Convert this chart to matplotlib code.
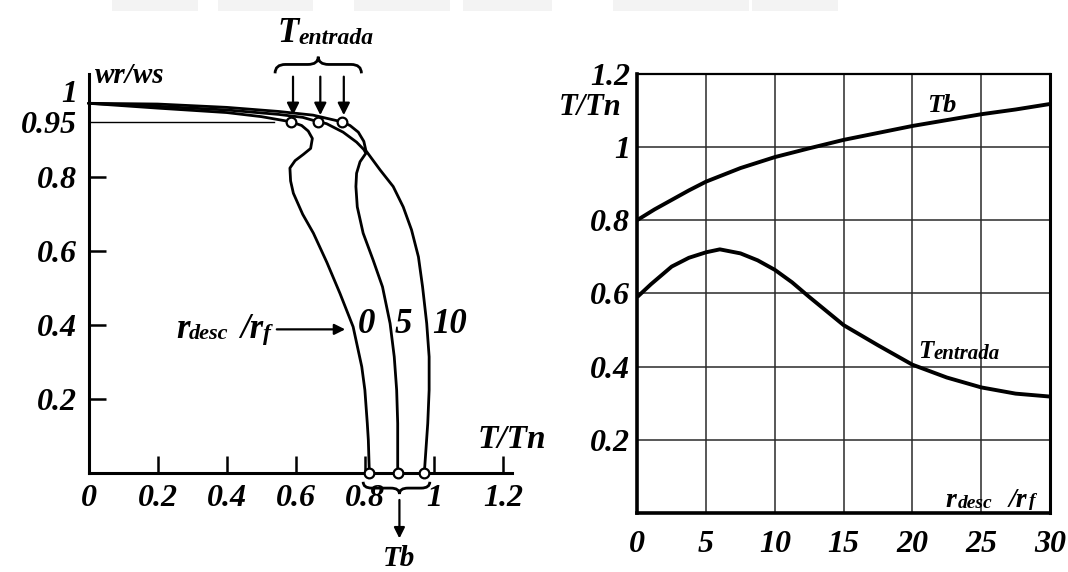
import numpy as np
import matplotlib.pyplot as plt
from matplotlib.path import Path
from matplotlib.patches import PathPatch, Rectangle

plt.rcParams['font.family'] = 'Liberation Serif'
plt.rcParams['font.style'] = 'italic'
plt.rcParams['font.weight'] = 'bold'

# speed-torque curves wr/ws vs T/Tn for rdesc/rf = 0, 5, 10
t_r0 = [0, 0.2, 0.4, 0.5, 0.586, 0.617, 0.636, 0.648, 0.643, 0.622, 0.598, 0.583,
        0.585, 0.593, 0.62, 0.651, 0.69, 0.728, 0.766, 0.791, 0.80, 0.807, 0.81, 0.813]
w_r0 = [1.0, 0.987, 0.975, 0.964, 0.95, 0.94, 0.925, 0.905, 0.878, 0.862, 0.845, 0.825,
        0.79, 0.757, 0.70, 0.649, 0.57, 0.486, 0.396, 0.288, 0.225, 0.135, 0.09, 0.0]

t_r5 = [0, 0.2, 0.4, 0.55, 0.62, 0.665, 0.689, 0.737, 0.776, 0.797, 0.803, 0.786,
        0.776, 0.774, 0.778, 0.795, 0.824, 0.851, 0.873, 0.885, 0.892, 0.895, 0.895]
w_r5 = [1.0, 0.992, 0.982, 0.97, 0.962, 0.95, 0.945, 0.922, 0.895, 0.875, 0.865, 0.842,
        0.811, 0.775, 0.72, 0.649, 0.576, 0.504, 0.405, 0.315, 0.225, 0.135, 0.0]

t_r10 = [0, 0.2, 0.4, 0.55, 0.65, 0.733, 0.757, 0.781, 0.797, 0.803, 0.844, 0.882,
         0.911, 0.935, 0.955, 0.967, 0.979, 0.986, 0.986, 0.982, 0.972]
w_r10 = [1.0, 0.998, 0.989, 0.978, 0.968, 0.95, 0.94, 0.922, 0.897, 0.872, 0.82, 0.775,
         0.72, 0.658, 0.585, 0.504, 0.405, 0.315, 0.225, 0.135, 0.0]

w_start = 0.95  # level of the starting-torque points

# torque vs rdesc/rf
r_b = [0, 1.25, 2.5, 3.75, 5, 7.5, 10, 12.5, 15, 17.5, 20, 22.5, 25, 27.5, 30]
Tb = [0.80, 0.829, 0.855, 0.881, 0.905, 0.942, 0.972, 0.996, 1.019, 1.038, 1.057,
      1.073, 1.089, 1.102, 1.117]
r_e = [0, 1, 2.5, 3.75, 5, 6, 7.5, 8.75, 10, 11.25, 12.5, 15, 17.5, 20, 22.5, 25, 27.5, 30]
Tentrada = [0.59, 0.625, 0.673, 0.697, 0.712, 0.72, 0.709, 0.69, 0.664, 0.63, 0.59,
            0.513, 0.458, 0.405, 0.37, 0.343, 0.326, 0.318]

left_xticks = [0, 0.2, 0.4, 0.6, 0.8, 1.0, 1.2]
left_xlabels = ['0', '0.2', '0.4', '0.6', '0.8', '1', '1.2']
left_yticks = [0.2, 0.4, 0.6, 0.8, 0.95]
left_ylabels = ['0.2', '0.4', '0.6', '0.8', '0.95']
right_xticks = [0, 5, 10, 15, 20, 25, 30]
right_yticks = [0.2, 0.4, 0.6, 0.8, 1.0, 1.2]
right_ylabels = ['0.2', '0.4', '0.6', '0.8', '1', '1.2']


def brace(ax, x0, x1, y_end, y_mid, y_tip, d, xc=None):
    if xc is None:
        xc = (x0 + x1) / 2
    verts = [(x0, y_end), (x0, y_mid), (x0 + d, y_mid),
             (xc - d, y_mid), (xc, y_mid), (xc, y_tip),
             (xc, y_mid), (xc + d, y_mid),
             (x1 - d, y_mid), (x1, y_mid), (x1, y_end)]
    codes = [Path.MOVETO, Path.CURVE3, Path.CURVE3,
             Path.LINETO, Path.CURVE3, Path.CURVE3,
             Path.CURVE3, Path.CURVE3,
             Path.LINETO, Path.CURVE3, Path.CURVE3]
    ax.add_patch(PathPatch(Path(verts, codes), fill=False, lw=2, color='k',
                           clip_on=False))


def arrow(ax, x0, y0, x1, y1, ms=18):
    ax.annotate('', xy=(x1, y1), xytext=(x0, y0), annotation_clip=False,
                arrowprops=dict(arrowstyle='-|>', color='k', lw=1.6,
                                mutation_scale=ms, shrinkA=0, shrinkB=0))


fig = plt.figure(figsize=(10.68, 5.72), dpi=100)

# faint watermark strip along the top edge
for a, b in [(112, 198), (218, 313), (354, 450), (463, 552), (613, 749), (752, 838)]:
    fig.patches.append(Rectangle((a / 1068, 561 / 572), (b - a) / 1068, 11 / 572,
                                 transform=fig.transFigure, color='#f3f3f3', lw=0))

# ---- left panel ----
ax1 = fig.add_axes([88.5 / 1068, (572 - 473.3) / 572, 423.2 / 1068, 399.6 / 572])
ax1.set_xlim(0, 1.225)
ax1.set_ylim(0, 1.08)
for s in ['top', 'right']:
    ax1.spines[s].set_visible(False)
for s in ['left', 'bottom']:
    ax1.spines[s].set_linewidth(2.2)

curves = [(t_r0, w_r0), (t_r5, w_r5), (t_r10, w_r10)]
for t, w in curves:
    ax1.plot(t, w, color='k', lw=2, solid_capstyle='round', clip_on=False, zorder=3)

i0 = w_r0.index(w_start)
ax1.plot([0, t_r0[i0] - 0.05], [w_start, w_start], color='k', lw=1, zorder=2)

for t, w in curves:
    i = w.index(w_start)
    ax1.plot(t[i], w[i], 'o', ms=7, mfc='white', mec='k', mew=1.6, zorder=5, clip_on=False)
    ax1.plot(t[-1], w[-1], 'o', ms=7, mfc='white', mec='k', mew=1.6, zorder=5, clip_on=False)

ax1.set_xticks(left_xticks)
ax1.set_xticklabels(left_xlabels)
ax1.set_yticks(left_yticks)
ax1.set_yticklabels(left_ylabels)
ax1.tick_params(direction='in', length=12, width=1.8, labelsize=23)
ax1.tick_params(axis='x', pad=8)
ax1.tick_params(axis='y', pad=8)
ax1.xaxis.get_major_ticks()[0].tick1line.set_visible(False)
ax1.yaxis.get_major_ticks()[-1].tick1line.set_visible(False)
# the "1" mark sits a little above the 1.0 start of the curves
ax1.text(-0.033, 1.025, '1', fontsize=23, ha='right', va='center')

# starting torque marks above the curves
brace(ax1, 0.54, 0.79, 1.081, 1.105, 1.126, 0.03)
for t, w in curves:
    i = w.index(w_start)
    arrow(ax1, t[i] + 0.006, 1.072, t[i] + 0.006, 0.968)
ax1.text(0.548, 1.166, 'T', fontsize=25, ha='left', va='baseline')
ax1.text(0.608, 1.16, 'entrada', fontsize=17, ha='left', va='baseline')

# breakdown torque marks below the axis
brace(ax1, t_r0[-1] - 0.018, t_r10[-1] + 0.016, -0.023, -0.04, -0.056, 0.025, xc=0.90)
arrow(ax1, 0.90, -0.072, 0.90, -0.176, ms=16)
ax1.text(0.90, -0.25, 'Tb', fontsize=21, ha='center', va='baseline')

ax1.text(0.019, 1.054, 'wr/ws', fontsize=21, ha='left', va='baseline')
ax1.text(1.127, 0.068, 'T/Tn', fontsize=24, ha='left', va='baseline')

ax1.text(0.255, 0.365, 'r', fontsize=25, ha='left', va='baseline')
ax1.text(0.289, 0.362, 'desc', fontsize=16, ha='left', va='baseline')
ax1.text(0.4385, 0.365, '/r', fontsize=25, ha='left', va='baseline')
ax1.text(0.505, 0.36, 'f', fontsize=17, ha='left', va='baseline')
arrow(ax1, 0.545, 0.389, 0.743, 0.389, ms=16)
for x, s in zip([0.805, 0.911, 1.046], ['0', '5', '10']):
    ax1.text(x, 0.401, s, fontsize=25, ha='center', va='center')

# ---- right panel ----
ax2 = fig.add_axes([637.3 / 1068, (572 - 513) / 572, 412.7 / 1068, 439.4 / 572])
ax2.set_xlim(0, 30)
ax2.set_ylim(0, 1.2)
ax2.plot(r_b, Tb, color='k', lw=2.8, solid_capstyle='butt', solid_joinstyle='round', zorder=3)
ax2.plot(r_e, Tentrada, color='k', lw=2.8, solid_capstyle='butt', solid_joinstyle='round', zorder=3)
ax2.set_xticks(right_xticks)
ax2.set_yticks(right_yticks)
ax2.set_yticklabels(right_ylabels)
ax2.grid(True, color='#2a2a2a', lw=1.1)
ax2.tick_params(length=0, labelsize=23)
ax2.tick_params(axis='x', pad=12)
ax2.tick_params(axis='y', pad=5)
ax2.spines['left'].set_linewidth(2.6)
ax2.spines['bottom'].set_linewidth(2.6)
ax2.spines['top'].set_linewidth(1.6)
ax2.spines['right'].set_linewidth(2.2)

ax2.text(-3.4, 1.087, 'T/Tn', fontsize=22, ha='center', va='baseline', clip_on=False)
ax2.text(21.04, 1.096, 'Tb', fontsize=19, ha='left', va='baseline')
ax2.text(20.4, 0.423, 'T', fontsize=18, ha='left', va='baseline')
ax2.text(21.5, 0.42, 'entrada', fontsize=15, ha='left', va='baseline')
ax2.text(22.4, 0.017, 'r', fontsize=20, ha='left', va='baseline')
ax2.text(23.3, 0.015, 'desc', fontsize=14, ha='left', va='baseline')
ax2.text(27.0, 0.017, '/r', fontsize=20, ha='left', va='baseline')
ax2.text(28.45, 0.02, 'f', fontsize=14, ha='left', va='baseline')

fig.savefig('out.png', dpi=100, facecolor='white')
